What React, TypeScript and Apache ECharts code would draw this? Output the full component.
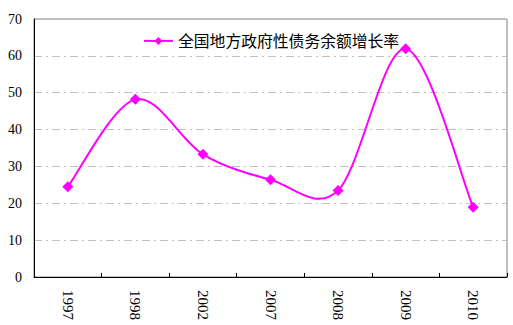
import React, { useEffect, useRef } from "react";
import * as echarts from "echarts";

const categories = ["1997", "1998", "2002", "2007", "2008", "2009", "2010"];
const seriesName = "全国地方政府性债务余额增长率";
const growthRate = [24.5, 48.2, 33.3, 26.4, 23.5, 61.9, 18.9];
const yTicks = { min: 0, max: 70, interval: 10 };

const MAGENTA = "#ff00ff";

export default function App() {
  const ref = useRef<HTMLDivElement>(null);
  useEffect(() => {
    document.body.style.margin = "0";
    const chart = echarts.init(ref.current!, null, { renderer: "svg" });
    const n = growthRate.length;
    chart.setOption({
      animation: false,
      backgroundColor: "#ffffff",
      grid: {
        left: 34,
        right: 6,
        top: 19,
        bottom: 48,
        show: true,
        borderColor: "#808080",
        borderWidth: 1,
        backgroundColor: "transparent",
      },
      legend: {
        left: 138,
        top: 28,
        itemWidth: 29,
        itemHeight: 10,
        itemGap: 5,
        lineStyle: { color: MAGENTA, width: 2, opacity: 1 },
        textStyle: {
          fontFamily: "Noto Sans CJK SC",
          fontSize: 15.8,
          color: "#000",
        },
        data: [seriesName],
      },
      xAxis: {
        type: "category",
        data: categories,
        boundaryGap: true,
        axisLine: { lineStyle: { color: "#000", width: 1 } },
        axisTick: { show: true, inside: true, length: 4, lineStyle: { color: "#000" } },
        axisLabel: {
          rotate: -90,
          margin: 13,
          fontFamily: "Liberation Serif",
          fontSize: 15,
          color: "#000",
        },
        splitLine: { show: false },
      },
      yAxis: {
        type: "value",
        min: yTicks.min,
        max: yTicks.max,
        interval: yTicks.interval,
        axisLine: { show: true, lineStyle: { color: "#000", width: 1 } },
        axisTick: { show: false },
        axisLabel: {
          margin: 12,
          fontFamily: "Liberation Serif",
          fontSize: 14,
          color: "#000",
        },
        splitLine: {
          show: true,
          lineStyle: { color: "#c0c0c0", type: [8, 4, 2, 4], width: 1 },
        },
      },
      series: [
        {
          name: "curve",
          type: "custom",
          z: 2,
          silent: true,
          data: growthRate.map((v, i) => [i, v]),
          encode: { x: 0, y: 1 },
          renderItem: (params: any, api: any) => {
            const i = params.dataIndex;
            if (i >= n - 1) return null;
            const P = (k: number) => {
              const kk = Math.max(0, Math.min(n - 1, k));
              return api.coord([kk, growthRate[kk]]);
            };
            const p0 = P(i - 1);
            const p1 = P(i);
            const p2 = P(i + 1);
            const p3 = P(i + 2);
            const c1 = [p1[0] + (p2[0] - p0[0]) / 6, p1[1] + (p2[1] - p0[1]) / 6];
            const c2 = [p2[0] - (p3[0] - p1[0]) / 6, p2[1] - (p3[1] - p1[1]) / 6];
            const d = `M${p1[0]},${p1[1]} C${c1[0]},${c1[1]} ${c2[0]},${c2[1]} ${p2[0]},${p2[1]}`;
            return {
              type: "path",
              shape: { pathData: d },
              style: { stroke: MAGENTA, lineWidth: 2, fill: "none" },
            };
          },
        },
        {
          name: seriesName,
          type: "line",
          z: 3,
          data: growthRate,
          symbol: "diamond",
          symbolSize: 11,
          showSymbol: true,
          lineStyle: { color: MAGENTA, width: 2, opacity: 0 },
          itemStyle: { color: MAGENTA },
        },
      ],
    });
    return () => chart.dispose();
  }, []);
  return <div ref={ref} style={{ width: 513, height: 325 }} />;
}
